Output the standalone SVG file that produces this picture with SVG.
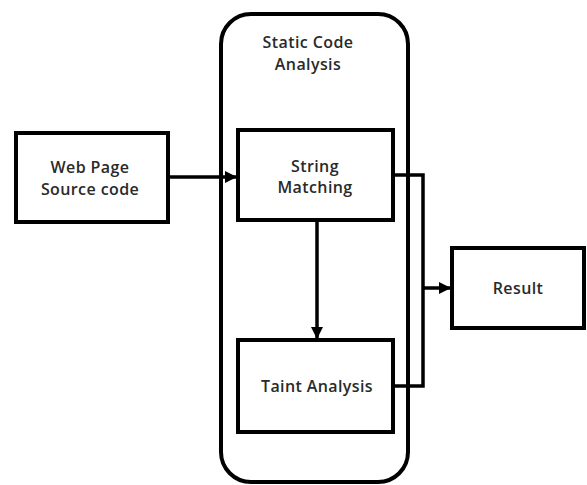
<svg xmlns="http://www.w3.org/2000/svg" width="587" height="485" viewBox="0 0 587 485">
<style>
.box{fill:#fff;stroke:#000;stroke-width:4}
.cont{fill:none;stroke:#000;stroke-width:4}
.lbl{font-family:"Open Sans","Liberation Sans",Arial,sans-serif;font-size:16px;font-weight:600;fill:#2a2a2a;text-anchor:middle;letter-spacing:0.4px}
.edge{fill:none;stroke:#000;stroke-width:3.5}
</style>
<defs>
<marker id="ah" markerWidth="12" markerHeight="12" refX="11" refY="6" orient="auto" markerUnits="userSpaceOnUse">
<path d="M0,0 L12,6 L0,12 Z" fill="#000"/>
</marker>
</defs>
<g id="static-code-analysis">
<rect class="cont" x="221" y="14" width="187" height="468" rx="30" ry="30"/>
<text class="lbl" x="308" y="48">Static Code</text>
<text class="lbl" x="308" y="70">Analysis</text>
</g>
<g id="web-page">
<rect class="box" x="16" y="133" width="152" height="89"/>
<text class="lbl" x="90" y="173">Web Page</text>
<text class="lbl" x="90" y="195">Source code</text>
</g>
<g id="string-matching">
<rect class="box" x="238" y="130" width="155" height="90"/>
<text class="lbl" x="315" y="172">String</text>
<text class="lbl" x="315" y="193">Matching</text>
</g>
<g id="taint-analysis">
<rect class="box" x="238" y="340" width="155" height="92"/>
<text class="lbl" x="317" y="392">Taint Analysis</text>
</g>
<g id="result">
<rect class="box" x="452" y="248" width="132" height="80"/>
<text class="lbl" x="518" y="294">Result</text>
</g>
<g id="connectors">
<path class="edge" d="M168,177 L236,177" marker-end="url(#ah)"/>
<path class="edge" d="M317,220 L317,338" marker-end="url(#ah)"/>
<path class="edge" d="M393,175 L423,175 L423,386 L393,386"/>
<path class="edge" d="M423,288 L450,288" marker-end="url(#ah)"/>
</g>
</svg>
